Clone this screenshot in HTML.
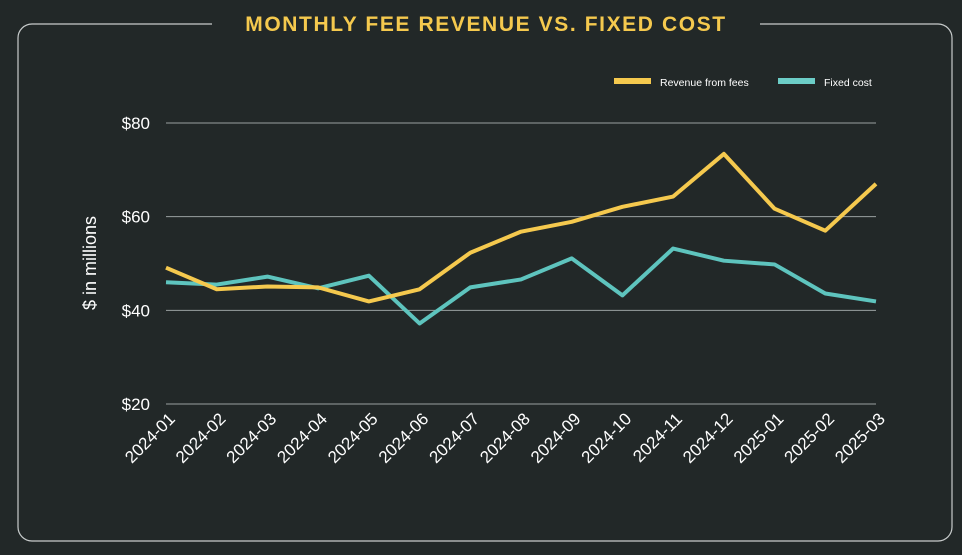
<!DOCTYPE html>
<html><head><meta charset="utf-8"><style>
html,body{margin:0;padding:0;background:#222828;}
svg{display:block;font-family:"Liberation Sans",sans-serif;}
</style></head><body>
<svg id="chart" width="962" height="555" viewBox="0 0 962 555">
<rect x="0" y="0" width="962" height="555" fill="#222828"/>
<rect x="18" y="24" width="934" height="517" rx="14" fill="none" stroke="#c8cccc" stroke-width="1.2"/>
<rect x="212" y="8" width="548" height="32" fill="#222828"/>
<text x="486" y="31" text-anchor="middle" fill="#f5c94e" font-size="21" font-weight="bold" letter-spacing="1.6">MONTHLY FEE REVENUE VS. FIXED COST</text>
<text transform="translate(96,263) rotate(-90)" text-anchor="middle" fill="#fff" font-size="18">$ in millions</text>
<g>
<rect x="614" y="78" width="37" height="6" fill="#f5c94e"/>
<text x="660" y="86" fill="#fff" font-size="10.5">Revenue from fees</text>
<rect x="778" y="78" width="37" height="6" fill="#6ccdc7"/>
<text x="824" y="86" fill="#fff" font-size="10.5">Fixed cost</text>
</g>
<g id="grid"></g><g id="ticks"></g><g id="series"></g>
</svg>
<script>
const categories=["2024-01","2024-02","2024-03","2024-04","2024-05","2024-06","2024-07","2024-08","2024-09","2024-10","2024-11","2024-12","2025-01","2025-02","2025-03"];
const revenue=[49.1,44.5,45.1,44.9,41.9,44.5,52.3,56.8,58.9,62.1,64.3,73.4,61.7,57.0,67.0];
const fixedCost=[46.0,45.5,47.2,44.7,47.4,37.2,44.9,46.6,51.1,43.2,53.2,50.6,49.8,43.6,41.9];
const yTicks=[20,40,60,80];
const yTickLabels=["$20","$40","$60","$80"];
const NS="http://www.w3.org/2000/svg";
const x0=166,x1=876,yTop=123,yBot=404;
function xs(i){return x0+(x1-x0)*i/(categories.length-1);}
function ys(v){return yBot-(v-20)/(80-20)*(yBot-yTop);}
function mk(t,a,p){const e=document.createElementNS(NS,t);for(const k in a)e.setAttribute(k,a[k]);p.appendChild(e);return e;}
const grid=document.getElementById('grid'),ticks=document.getElementById('ticks'),series=document.getElementById('series');
yTicks.forEach((v,i)=>{
 const l=mk('line',{x1:x0,x2:x1,y1:ys(v),y2:ys(v),stroke:'#9aa0a0','stroke-width':1},grid);
 
 
 const t=mk('text',{x:150,y:ys(v)+6,'text-anchor':'end',fill:'#fff','font-size':17},ticks);
 t.textContent=yTickLabels[i];
 
 
});
categories.forEach((c,i)=>{
 const t=mk('text',{transform:`translate(${xs(i)+10},${420}) rotate(-45)`,'text-anchor':'end',fill:'#fff','font-size':17},ticks);
 t.textContent=c;
 
 
});
function line(d,col,name){
 const p=mk('polyline',{points:d.map((v,i)=>xs(i)+','+ys(v)).join(' '),fill:'none',stroke:col,'stroke-width':4,'stroke-linejoin':'round'},series);
 
 
}
line(fixedCost,'#5ec4be','fixed-cost-line');
line(revenue,'#f5c94e','revenue-line');
</script>
</body></html>
